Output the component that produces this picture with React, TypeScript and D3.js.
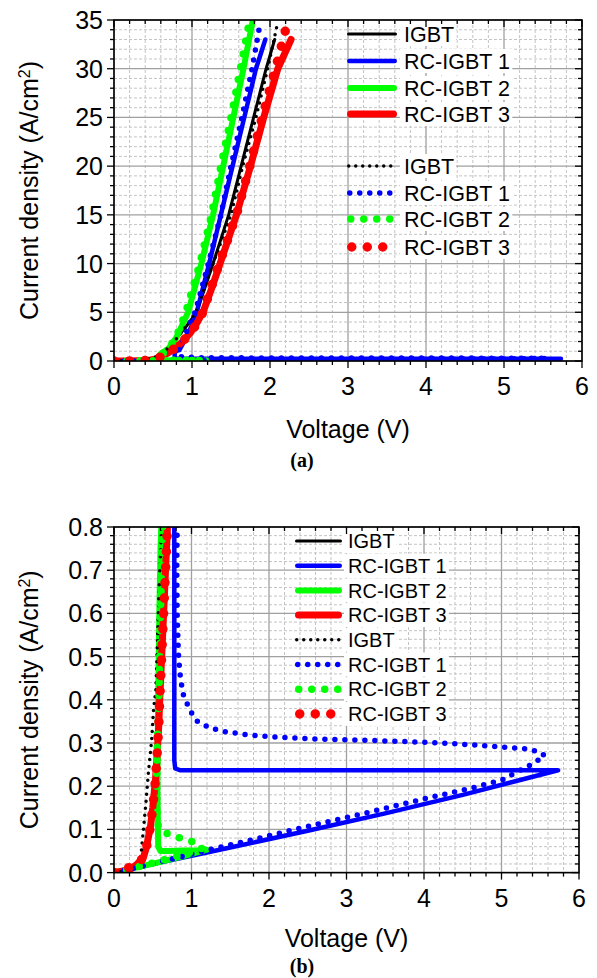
import React from 'react';
import * as d3 from 'd3';

// series labels and colours
const seriesNames = ['IGBT', 'RC-IGBT 1', 'RC-IGBT 2', 'RC-IGBT 3'];
const seriesColors = ['#000000', '#0000ff', '#00ff00', '#ff0000'];

// simulated curves (solid), voltage V and current density A/cm2
const igbtSimV = [0, 0.2, 0.3, 0.38, 0.42, 0.47, 0.5, 0.535, 0.56, 0.578, 0.59, 0.615, 0.64, 0.665, 0.69, 0.8, 0.95, 1.06, 1.27, 1.47, 1.63, 1.79, 1.95, 2.06];
const igbtSimJ = [0, 0.006, 0.02, 0.035, 0.06, 0.106, 0.15, 0.214, 0.284, 0.342, 0.4, 0.5, 0.6, 0.7, 0.8, 2.3, 3.8, 5, 10, 15, 20, 25, 30, 33];

const rc1SimV = [0, 0.5, 1.5, 2.5, 3.5, 4.5, 5.73, 5.2, 4, 3, 2, 1.2, 0.85, 0.79, 0.778, 0.778, 0.78, 0.85, 0.92, 1.0, 1.06, 1.22, 1.37, 1.52, 1.67, 1.82, 1.94];
const rc1SimJ = [0, 0.02, 0.058, 0.097, 0.137, 0.18, 0.237, 0.237, 0.237, 0.237, 0.237, 0.237, 0.237, 0.241, 0.26, 0.8, 0.9, 1.3, 2.3, 3.7, 5, 10, 15, 20, 25, 30, 33];

const rc2SimV = [0, 0.3, 0.6, 0.9, 1.2, 1.1, 0.9, 0.7, 0.6, 0.57, 0.56, 0.57, 0.585, 0.6, 0.62, 0.7, 0.8, 0.95, 1.12, 1.27, 1.4, 1.53, 1.66, 1.78];
const rc2SimJ = [0, 0.012, 0.025, 0.038, 0.053, 0.052, 0.051, 0.05, 0.05, 0.06, 0.2, 0.4, 0.6, 0.75, 0.85, 1.3, 2.4, 5, 10, 15, 20, 25, 30, 35];

const rc3SimV = [0, 0.2, 0.3, 0.38, 0.42, 0.47, 0.5, 0.535, 0.56, 0.578, 0.59, 0.615, 0.64, 0.665, 0.69, 0.78, 0.88, 0.98, 1.07, 1.15, 1.25, 1.36, 1.57, 1.75, 1.92, 2.1, 2.27];
const rc3SimJ = [0, 0.006, 0.02, 0.035, 0.06, 0.106, 0.15, 0.214, 0.284, 0.342, 0.4, 0.5, 0.6, 0.7, 0.8, 1.3, 2.0, 2.9, 4.0, 5.2, 7.4, 10, 15, 20, 25, 30, 33];

// measured curves (dotted)
const igbtMeasV = [0, 0.1, 0.2, 0.28, 0.33, 0.35, 0.38, 0.413, 0.443, 0.486, 0.51, 0.54, 0.56, 0.58, 0.61, 0.65, 0.75, 0.9, 1.05, 1.27, 1.5, 1.65, 1.82, 1.97, 2.1];
const igbtMeasJ = [0, 0.003, 0.006, 0.01, 0.02, 0.045, 0.1, 0.164, 0.23, 0.307, 0.377, 0.423, 0.53, 0.65, 0.78, 1.0, 1.8, 3.3, 5, 10, 15, 20, 25, 30, 34.8];

const rc1MeasV = [0, 0.3, 0.76, 1.11, 1.6, 2.4, 3.2, 4.03, 4.6, 5.0, 5.37, 5.56, 5.5, 5.41, 5.28, 5.15, 4.77, 4.12, 3.3, 2.5, 2.05, 1.67, 1.41, 1.28, 1.17, 1.07, 1.0, 0.94, 0.89, 0.87, 0.85, 0.83, 0.815, 0.81, 0.815, 0.85, 0.92, 1.04, 1.21, 1.37, 1.5, 1.64, 1.77, 1.87];
const rc1MeasJ = [0, 0.012, 0.032, 0.048, 0.068, 0.103, 0.136, 0.172, 0.195, 0.214, 0.249, 0.27, 0.278, 0.283, 0.287, 0.289, 0.294, 0.301, 0.306, 0.31, 0.314, 0.32, 0.327, 0.333, 0.341, 0.351, 0.37, 0.392, 0.414, 0.437, 0.462, 0.509, 0.6, 0.7, 0.8, 1.5, 2.8, 5, 10, 15, 20, 25, 30, 34.5];

const rc2MeasV = [0, 0.15, 0.35, 0.55, 0.75, 0.95, 1.13, 1.13, 1.02, 0.87, 0.72, 0.6, 0.572, 0.55, 0.55, 0.56, 0.57, 0.58, 0.6, 0.628, 0.7, 0.8, 0.92, 1.1, 1.25, 1.37, 1.5, 1.62, 1.74];
const rc2MeasJ = [0, 0.006, 0.015, 0.025, 0.035, 0.045, 0.055, 0.06, 0.071, 0.079, 0.087, 0.098, 0.106, 0.15, 0.23, 0.307, 0.354, 0.41, 0.6, 0.8, 1.3, 2.5, 5, 10, 15, 20, 25, 30, 35];

const rc3MeasV = [0, 0.08, 0.2, 0.3, 0.38, 0.42, 0.44, 0.47, 0.5, 0.535, 0.56, 0.578, 0.59, 0.615, 0.64, 0.665, 0.69, 0.78, 0.88, 0.98, 1.08, 1.14, 1.35, 1.57, 1.74, 1.9, 2.07, 2.21];
const rc3MeasJ = [0, 0.005, 0.012, 0.02, 0.035, 0.06, 0.08, 0.106, 0.15, 0.214, 0.284, 0.342, 0.4, 0.5, 0.6, 0.7, 0.8, 1.3, 2.0, 2.9, 4.0, 5, 10, 15, 20, 25, 30, 34.3];

const simV = [igbtSimV, rc1SimV, rc2SimV, rc3SimV];
const simJ = [igbtSimJ, rc1SimJ, rc2SimJ, rc3SimJ];
const measV = [igbtMeasV, rc1MeasV, rc2MeasV, rc3MeasV];
const measJ = [igbtMeasJ, rc1MeasJ, rc2MeasJ, rc3MeasJ];

// axes
const xTicks = [0, 1, 2, 3, 4, 5, 6];
const yTicksA = [0, 5, 10, 15, 20, 25, 30, 35];
const yTicksB = [0, 0.1, 0.2, 0.3, 0.4, 0.5, 0.6, 0.7, 0.8];

// line styles
const solidWidth = [3, 4.5, 6, 7];
const dotSize = [3.5, 5.5, 7.5, 9.5];
const dotGap = [7, 10, 13, 15.5];

const FONT = 'Liberation Sans, Arial, Helvetica, sans-serif';

const zip = (v: number[], j: number[]) => v.map((d, i) => [d, j[i]] as [number, number]);

function labelWidth(s: string, size: number) {
  const w: Record<string, number> = { I: 0.278, G: 0.778, B: 0.667, T: 0.611, R: 0.722, C: 0.722, '-': 0.333, ' ': 0.278 };
  return s.split('').reduce((a, c) => a + (w[c] ?? 0.556), 0) * size;
}

type PanelProps = {
  id: string;
  left: number; right: number; top: number; bottom: number;
  yMax: number; yTicks: number[]; yMinor: number; fmt: (n: number) => string;
  legX: number; legLen: number; legText: number; legRows: number[]; legFont: number;
  tag: string; tagY: number; xTitleY: number;
};

function Panel(p: PanelProps) {
  const x = d3.scaleLinear().domain([0, 6]).range([p.left, p.right]);
  const y = d3.scaleLinear().domain([0, p.yMax]).range([p.bottom, p.top]);
  const line = d3.line<[number, number]>().x(d => x(d[0])).y(d => y(d[1]));
  const xMinor = d3.range(0, 30.5, 1).map(i => i * 0.2);
  const nMinor = Math.round(p.yMax / p.yMinor);
  const yMinor = d3.range(0, nMinor + 0.5, 1).map(i => i * p.yMinor);
  const isMajorX = (v: number) => Math.abs(v - Math.round(v)) < 1e-6;
  const step = p.yTicks[1] - p.yTicks[0];
  const isMajorY = (v: number) => Math.abs(v / step - Math.round(v / step)) < 1e-6;
  const cx = (p.left + p.right) / 2;
  const cy = (p.top + p.bottom) / 2;

  const legendItems = [
    ...seriesNames.map((n, i) => ({ n, i, dotted: false })),
    ...seriesNames.map((n, i) => ({ n, i, dotted: true })),
  ];

  return (
    <g fontFamily={FONT}>
      <defs>
        <clipPath id={p.id}>
          <rect x={p.left} y={p.top} width={p.right - p.left} height={p.bottom - p.top} />
        </clipPath>
      </defs>
      {/* grid */}
      {xMinor.filter(v => !isMajorX(v)).map(v => (
        <line key={'xm' + v} x1={x(v)} x2={x(v)} y1={p.top} y2={p.bottom} stroke="#c4c4c4" strokeWidth={1} strokeDasharray="3,2" />
      ))}
      {yMinor.filter(v => !isMajorY(v)).map(v => (
        <line key={'ym' + v} x1={p.left} x2={p.right} y1={y(v)} y2={y(v)} stroke="#c4c4c4" strokeWidth={1} strokeDasharray="3,2" />
      ))}
      {xTicks.map(v => (
        <line key={'xg' + v} x1={x(v)} x2={x(v)} y1={p.top} y2={p.bottom} stroke="#a0a0a0" strokeWidth={1.3} />
      ))}
      {p.yTicks.map(v => (
        <line key={'yg' + v} x1={p.left} x2={p.right} y1={y(v)} y2={y(v)} stroke="#a0a0a0" strokeWidth={1.3} />
      ))}

      {/* curves */}
      <g clipPath={`url(#${p.id})`} fill="none" strokeLinejoin="round">
        {simV.map((v, i) => (
          <path key={'s' + i} d={line(zip(v, simJ[i])) ?? ''} stroke={seriesColors[i]} strokeWidth={solidWidth[i]} strokeLinecap="round" />
        ))}
        {measV.map((v, i) => (
          <path key={'m' + i} d={line(zip(v, measJ[i])) ?? ''} stroke={seriesColors[i]} strokeWidth={dotSize[i]} strokeLinecap="round" strokeDasharray={`0 ${dotGap[i]}`} />
        ))}
      </g>

      {/* legend */}
      {legendItems.map((it, k) => {
        const ry = p.legRows[k];
        return (
          <g key={'lg' + k}>
            {it.dotted ? (
              <line x1={p.legX + dotSize[it.i] / 2} x2={p.legX + p.legLen} y1={ry} y2={ry} stroke={seriesColors[it.i]} strokeWidth={dotSize[it.i]} strokeLinecap="round" strokeDasharray={`0 ${dotGap[it.i]}`} />
            ) : (
              <line x1={p.legX + solidWidth[it.i] / 2} x2={p.legX + p.legLen - solidWidth[it.i] / 2} y1={ry} y2={ry} stroke={seriesColors[it.i]} strokeWidth={solidWidth[it.i]} strokeLinecap="round" />
            )}
            <rect x={p.legText - 4} y={ry - 12} width={labelWidth(it.n, p.legFont) + 6} height={24} fill="#fff" />
            <text x={p.legText} y={ry} dy="0.36em" fontSize={p.legFont} fill="#000">{it.n}</text>
          </g>
        );
      })}

      {/* frame and ticks */}
      <rect x={p.left} y={p.top} width={p.right - p.left} height={p.bottom - p.top} fill="none" stroke="#000" strokeWidth={1.6} />
      {xMinor.map(v => {
        const L = isMajorX(v) ? 7 : 4;
        return (
          <g key={'xt' + v} stroke="#000" strokeWidth={1.3}>
            <line x1={x(v)} x2={x(v)} y1={p.bottom} y2={p.bottom + L} />
            <line x1={x(v)} x2={x(v)} y1={p.top} y2={p.top + L} />
          </g>
        );
      })}
      {yMinor.map(v => {
        const L = isMajorY(v) ? 7 : 4;
        return (
          <g key={'yt' + v} stroke="#000" strokeWidth={1.3}>
            <line x1={p.left - L} x2={p.left} y1={y(v)} y2={y(v)} />
            <line x1={p.right - L} x2={p.right} y1={y(v)} y2={y(v)} />
          </g>
        );
      })}
      {xTicks.map(v => (
        <text key={'xl' + v} x={x(v)} y={p.bottom + 34} fontSize={25} textAnchor="middle">{v}</text>
      ))}
      {p.yTicks.map(v => (
        <text key={'yl' + v} x={p.left - 11} y={y(v)} dy="0.36em" fontSize={25} textAnchor="end">{p.fmt(v)}</text>
      ))}

      <text x={cx} y={p.xTitleY} fontSize={25} textAnchor="middle">Voltage (V)</text>
      <text transform={`translate(38,${cy}) rotate(-90)`} fontSize={25} textAnchor="middle">
        Current density (A/cm<tspan baseline-shift="super" fontSize={16}>2</tspan>)
      </text>
      <text x={302} y={p.tagY} fontSize={20} fontWeight="bold" fontFamily="Liberation Serif, Times New Roman, serif" textAnchor="middle">{p.tag}</text>
    </g>
  );
}

export default function App() {
  const rowsA = [34, 61, 88, 114, 166, 193, 219, 247];
  const rowsB = d3.range(8).map(i => 541 + i * 24.7);
  return (
    <svg width={597} height={978} style={{ position: 'absolute', left: 0, top: 0, background: '#fff' }}>
      <rect width={597} height={978} fill="#fff" />
      <Panel id="clipA" left={114} right={582} top={20} bottom={361} yMax={35} yTicks={yTicksA} yMinor={1}
        fmt={d3.format('d')} legX={347} legLen={50} legText={404} legRows={rowsA} legFont={21.5}
        tag="(a)" tagY={467} xTitleY={438} />
      <Panel id="clipB" left={114} right={579} top={527} bottom={872.6} yMax={0.8} yTicks={yTicksB} yMinor={0.02}
        fmt={d3.format('.1f')} legX={295} legLen={47} legText={348} legRows={rowsB} legFont={20}
        tag="(b)" tagY={973} xTitleY={947} />
    </svg>
  );
}
